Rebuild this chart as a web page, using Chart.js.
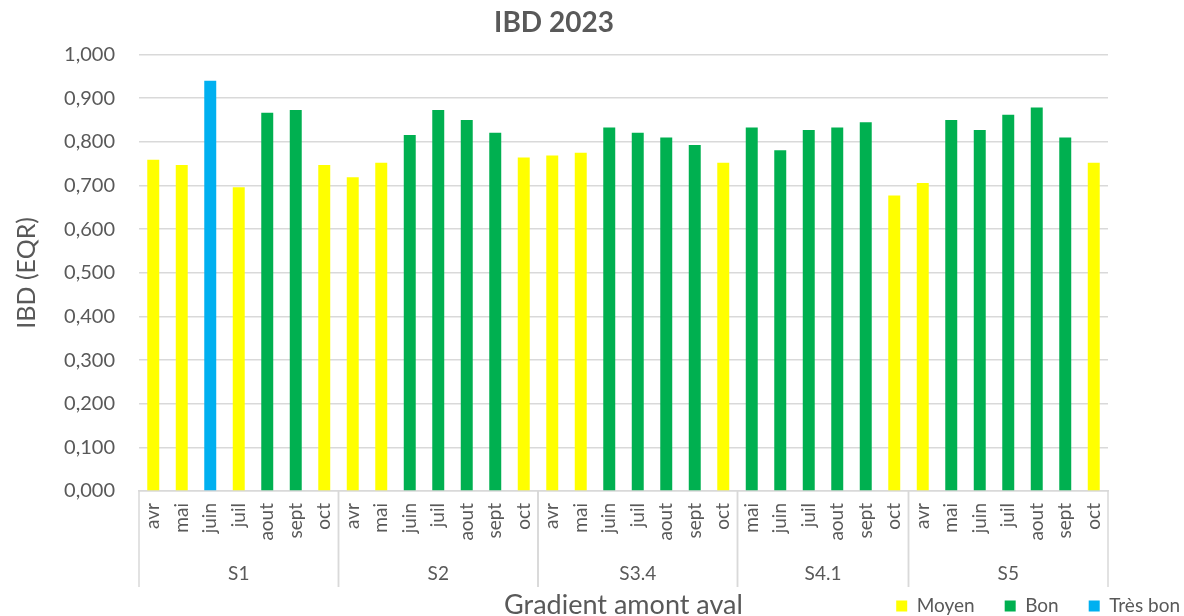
<!DOCTYPE html>
<html lang="fr">
<head>
<meta charset="utf-8">
<title>IBD 2023</title>
<script src="https://cdn.jsdelivr.net/npm/chart.js@4.4.1/dist/chart.umd.min.js"></script>
<style>
  html, body { margin: 0; padding: 0; background: #fff; }
  #wrap { width: 1184px; height: 616px; position: relative; }
</style>
</head>
<body>
<div id="wrap"><canvas id="chart"></canvas></div>
<script>
"use strict";

// stations (groupes) et nombre de prélèvements par station
const GROUPES = ["S1", "S2", "S3.4", "S4.1", "S5"];
const TAILLE_GROUPES = [7, 7, 7, 6, 7];

const MOIS = [
    "avr", "mai", "juin", "juil", "aout", "sept", "oct",
    "avr", "mai", "juin", "juil", "aout", "sept", "oct",
    "avr", "mai", "juin", "juil", "aout", "sept", "oct",
    "mai", "juin", "juil", "aout", "sept", "oct",
    "avr", "mai", "juin", "juil", "aout", "sept", "oct",
];
const IBD = [
    0.759, 0.747, 0.940, 0.696, 0.867, 0.873, 0.747,
    0.719, 0.752, 0.816, 0.873, 0.850, 0.821, 0.764,
    0.769, 0.775, 0.833, 0.821, 0.810, 0.793, 0.752,
    0.833, 0.781, 0.827, 0.833, 0.845, 0.677,
    0.706, 0.850, 0.827, 0.862, 0.879, 0.810, 0.752,
];
const CLASSE = [
    "Moyen", "Moyen", "Très bon", "Moyen", "Bon", "Bon", "Moyen",
    "Moyen", "Moyen", "Bon", "Bon", "Bon", "Bon", "Moyen",
    "Moyen", "Moyen", "Bon", "Bon", "Bon", "Bon", "Moyen",
    "Bon", "Bon", "Bon", "Bon", "Bon", "Moyen",
    "Moyen", "Bon", "Bon", "Bon", "Bon", "Bon", "Moyen",
];
const CLASSES = ["Moyen", "Bon", "Très bon"];
const COULEURS = ["#ffff00", "#00b050", "#00b0f0"];
const Y_MIN = 0, Y_MAX = 1, Y_PAS = 0.1;

const GRIS = "#595959";
const TRAIT = "#d9d9d9";
Chart.defaults.font.family = "Lato, 'Open Sans', sans-serif";

// axe à deux niveaux : séparateurs, noms de station et titre de l'axe x
const axeGroupes = {
    id: "axeGroupes",
    afterDraw(chart) {
        const { ctx, chartArea } = chart;
        const x = chart.scales.x;
        const bord = (i) => {
            if (i === 0) return chartArea.left;
            if (i === MOIS.length) return chartArea.right;
            return (x.getPixelForTick(i - 1) + x.getPixelForTick(i)) / 2;
        };
        ctx.save();
        ctx.strokeStyle = TRAIT;
        ctx.lineWidth = 1.5;
        ctx.fillStyle = GRIS;
        ctx.font = "19px Lato";
        ctx.textAlign = "center";
        ctx.textBaseline = "middle";
        let debut = 0;
        GROUPES.forEach((g, k) => {
            const fin = debut + TAILLE_GROUPES[k];
            const x0 = bord(debut), x1 = bord(fin);
            ctx.beginPath();
            ctx.moveTo(x0, chartArea.bottom);
            ctx.lineTo(x0, 587);
            ctx.moveTo(x1, chartArea.bottom);
            ctx.lineTo(x1, 587);
            ctx.stroke();
            ctx.fillText(g, (x0 + x1) / 2, 574);
            debut = fin;
        });
        ctx.font = "27px Lato";
        ctx.textBaseline = "alphabetic";
        ctx.fillText("Gradient amont aval", (chartArea.left + chartArea.right) / 2, 614);
        ctx.restore();
    },
};

// légende sur la même ligne que le titre de l'axe x, calée à droite
const placeLegende = {
    id: "placeLegende",
    afterLayout(chart) {
        const lg = chart.legend;
        lg.left += 102; lg.right += 102;
        lg.top += 9.5; lg.bottom += 9.5;
    },
};

new Chart(document.getElementById("chart"), {
    type: "bar",
    data: {
        labels: MOIS,
        datasets: CLASSES.map((c, k) => ({
            label: c,
            data: IBD.map((v, i) => (CLASSE[i] === c ? v : null)),
            backgroundColor: COULEURS[k],
            borderWidth: 0,
            barPercentage: 0.42,
            categoryPercentage: 1,
        })),
    },
    options: {
        responsive: true,
        maintainAspectRatio: false,
        animation: false,
        layout: { padding: { left: 0, right: 76, top: 0, bottom: 0 } },
        plugins: {
            title: { display: true, text: "IBD 2023", color: GRIS, font: { size: 28, weight: "bold" }, padding: { top: 6, bottom: 15 } },
            legend: {
                position: "bottom",
                align: "end",
                labels: { color: GRIS, font: { size: 19 }, boxWidth: 11, boxHeight: 11, padding: 30 },
            },
            tooltip: { enabled: false },
        },
        scales: {
            x: {
                stacked: true,
                afterFit: (s) => { s.height = 66; },
                border: { color: TRAIT, width: 1.5 },
                grid: { display: false, drawTicks: false },
                ticks: { autoSkip: false, minRotation: 90, maxRotation: 90, padding: 12, color: GRIS, font: { size: 19 } },
            },
            y: {
                stacked: true,
                min: Y_MIN,
                max: Y_MAX,
                afterFit: (s) => { s.width = 139; },
                border: { display: false },
                grid: { color: TRAIT, lineWidth: 1.5, drawTicks: false },
                ticks: { stepSize: Y_PAS, padding: 24, color: GRIS, font: { size: 20 }, callback: (v) => Number(v).toFixed(3).replace(".", ",") },
                title: { display: true, text: "IBD (EQR)", color: GRIS, font: { size: 25 }, padding: { top: 12, bottom: 0 } },
            },
        },
    },
    plugins: [axeGroupes, placeLegende],
});
</script>
</body>
</html>
